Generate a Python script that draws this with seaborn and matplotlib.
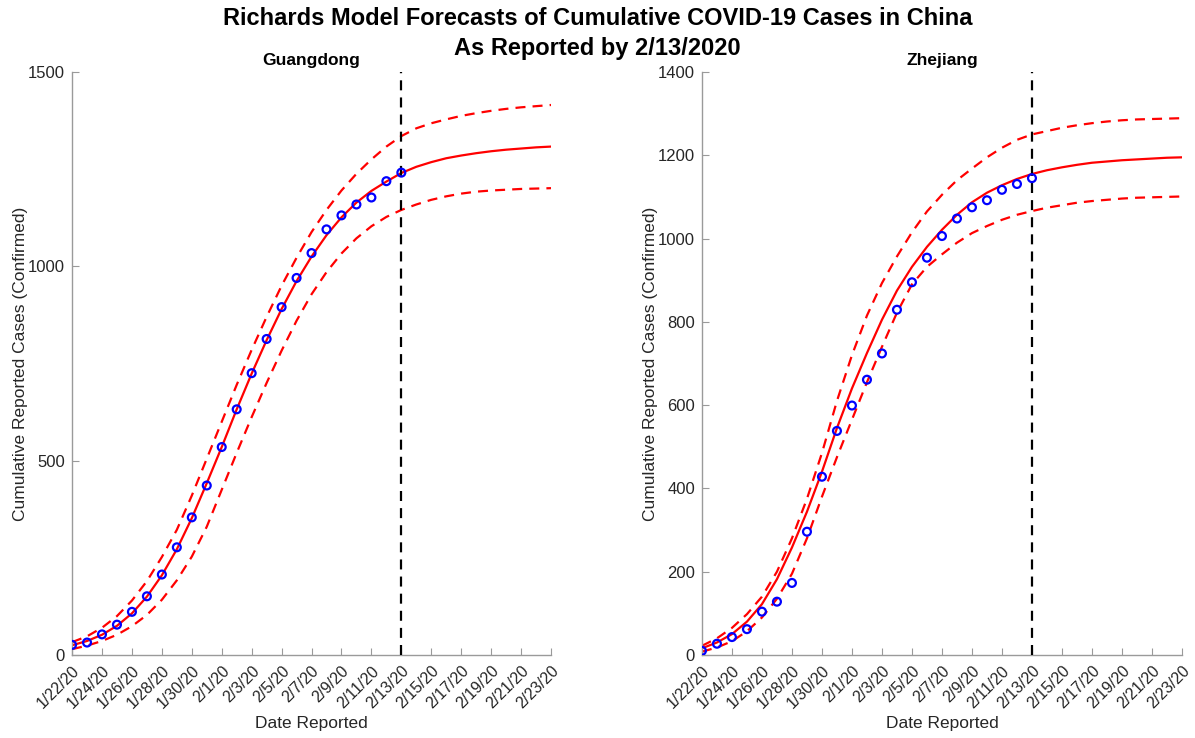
import numpy as np
import pandas as pd
import matplotlib
matplotlib.use("Agg")
import matplotlib.pyplot as plt
import seaborn as sns

# Reporting dates (observed through 2/13/2020, forecast to 2/23/2020)
dates = pd.date_range("2020-01-22", "2020-02-23", freq="D")
cutoff = pd.Timestamp("2020-02-13")
tick_dates = dates[::2]
tick_labels = [f"{d.month}/{d.day}/{d.year % 100}" for d in tick_dates]

# Guangdong: reported cumulative cases 1/22 - 2/13
gd_obs = [26, 32, 53, 78, 111, 151, 207, 277, 354, 436, 535, 632, 725, 813,
          895, 970, 1034, 1095, 1131, 1159, 1177, 1219, 1241]
# Guangdong: fitted curve and bounds, one value per day 1/22 - 2/23
gd_fit = [25, 36, 52, 75, 107, 150, 205, 272, 352, 442, 535, 632, 724, 810,
          890, 962, 1025, 1080, 1126, 1164, 1194, 1218, 1240, 1256, 1268,
          1278, 1285, 1291, 1296, 1300, 1303, 1306, 1308]
gd_upper = [33, 48, 70, 100, 140, 190, 252, 322, 410, 505, 600, 695, 785,
            870, 950, 1022, 1088, 1145, 1195, 1238, 1275, 1308, 1335, 1355,
            1368, 1378, 1387, 1394, 1400, 1405, 1409, 1412, 1415]
gd_lower = [15, 24, 36, 52, 74, 103, 142, 192, 253, 330, 425, 520, 612, 700,
            783, 860, 928, 985, 1033, 1072, 1103, 1127, 1145, 1159, 1171,
            1180, 1187, 1192, 1195, 1197, 1199, 1200, 1201]

# Zhejiang: reported cumulative cases 1/22 - 2/13
zj_obs = [10, 27, 43, 62, 104, 128, 173, 296, 428, 538, 599, 661, 724, 829,
          895, 954, 1006, 1048, 1075, 1092, 1117, 1131, 1145]
# Zhejiang: fitted curve and bounds, one value per day 1/22 - 2/23
zj_fit = [16, 30, 50, 80, 122, 182, 258, 344, 440, 545, 640, 725, 805, 875,
          932, 980, 1021, 1057, 1087, 1110, 1128, 1143, 1155, 1164, 1171,
          1177, 1182, 1185, 1188, 1190, 1192, 1194, 1195]
zj_upper = [22, 40, 65, 98, 140, 200, 280, 375, 485, 610, 720, 815, 893,
            957, 1015, 1065, 1105, 1140, 1168, 1195, 1218, 1237, 1250, 1258,
            1266, 1272, 1277, 1281, 1284, 1286, 1287, 1288, 1289]
zj_lower = [8, 18, 33, 57, 90, 135, 195, 280, 380, 475, 565, 655, 740, 822,
            890, 932, 962, 990, 1013, 1030, 1045, 1057, 1066, 1074, 1080,
            1086, 1090, 1093, 1096, 1098, 1099, 1100, 1101]

panels = [
    ("Guangdong", gd_obs, gd_fit, gd_upper, gd_lower, 1500, 500),
    ("Zhejiang", zj_obs, zj_fit, zj_upper, zj_lower, 1400, 200),
]

sns.set_theme(style="ticks")
plt.rcParams["font.family"] = ["Liberation Sans", "DejaVu Sans"]

fig = plt.figure(figsize=(11.95, 7.38), dpi=100)
axes = [fig.add_axes([0.0603, 0.1125, 0.4008, 0.790]),
        fig.add_axes([0.5874, 0.1125, 0.4017, 0.790])]

text_gray = "#262626"
axis_gray = "#9a9a9a"
dash = (0, (4.5, 3.2))

for ax, (name, obs, fit, upper, lower, ymax, ystep) in zip(axes, panels):
    day = np.arange(len(dates))
    curves = pd.DataFrame({"day": day, "fit": fit, "upper": upper, "lower": lower})
    observed = pd.DataFrame({"day": day[:len(obs)], "cases": obs})

    sns.lineplot(data=curves, x="day", y="fit", ax=ax, color="red", lw=1.6)
    for col in ("upper", "lower"):
        sns.lineplot(data=curves, x="day", y=col, ax=ax, color="red", lw=1.6,
                     linestyle=dash)
    sns.scatterplot(data=observed, x="day", y="cases", ax=ax, marker="o",
                    s=32, facecolors="none", edgecolor="blue", linewidth=1.6,
                    zorder=5)
    cut_day = (cutoff - dates[0]).days
    ax.axvline(cut_day, color="black", lw=1.6, linestyle=dash, zorder=4)

    ax.set_xlim(0, len(dates) - 1)
    ax.set_ylim(0, ymax)
    ax.set_xticks([(d - dates[0]).days for d in tick_dates])
    ax.set_xticklabels(tick_labels, rotation=45, ha="right",
                       rotation_mode="anchor", fontsize=11.5, color=text_gray)
    ax.set_yticks(np.arange(0, ymax + 1, ystep))
    ax.set_yticklabels([str(v) for v in np.arange(0, ymax + 1, ystep)],
                       fontsize=12, color=text_gray)
    ax.tick_params(axis="both", which="major", direction="in", length=5,
                   width=0.8, color=axis_gray, bottom=True, left=True,
                   top=False, right=False)
    ax.tick_params(axis="y", pad=5)
    ax.tick_params(axis="x", pad=6)
    for side in ("top", "right"):
        ax.spines[side].set_visible(False)
    for side in ("left", "bottom"):
        ax.spines[side].set_color(axis_gray)
        ax.spines[side].set_linewidth(1.0)
    ax.set_xlabel("Date Reported", fontsize=12.5, color=text_gray, labelpad=3)
    ax.set_ylabel("Cumulative Reported Cases (Confirmed)", fontsize=12.5,
                  color=text_gray, labelpad=0)
    ax.set_title(name, fontsize=12.5, fontweight="bold", color="black", pad=5)

fig.text(0.5, 0.990, "Richards Model Forecasts of Cumulative COVID-19 Cases in China",
         ha="center", va="top", fontsize=17, fontweight="bold", color="black")
fig.text(0.5, 0.950, "As Reported by 2/13/2020",
         ha="center", va="top", fontsize=17, fontweight="bold", color="black")

fig.savefig("out.png", dpi=100, facecolor="white")
